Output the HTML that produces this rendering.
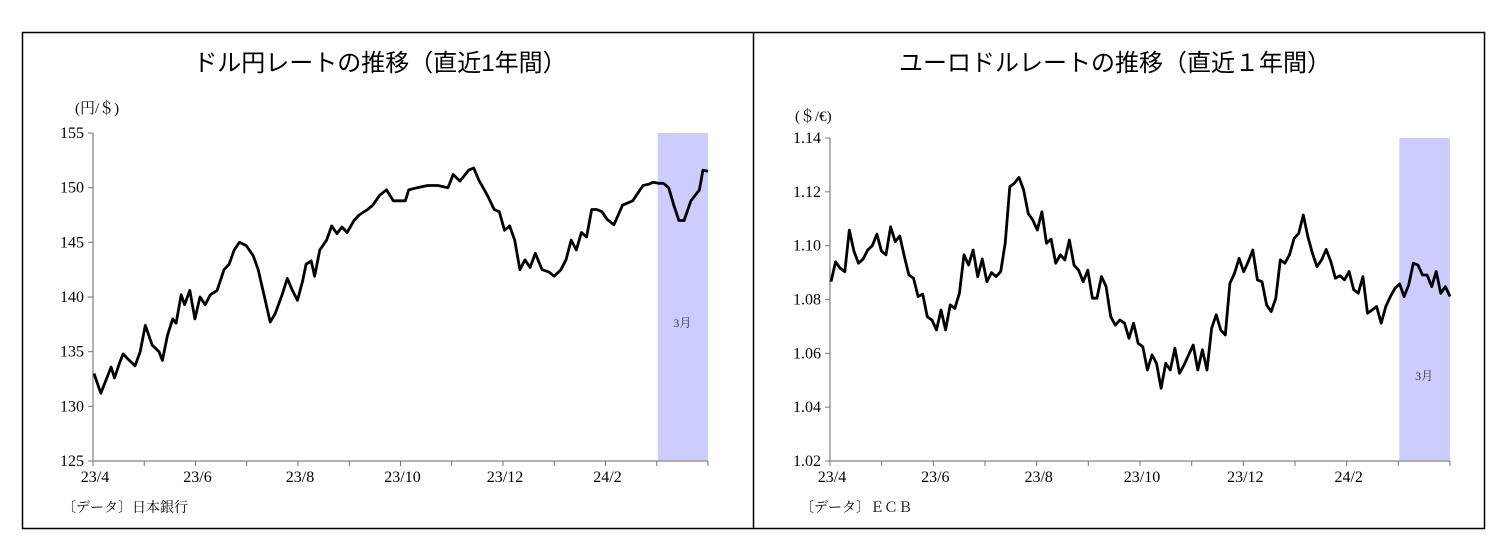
<!DOCTYPE html>
<html><head><meta charset="utf-8">
<style>
body{margin:0;background:#fff;}
svg text{font-family:"Liberation Serif","Noto Serif CJK SC",serif;}
.ttl{font-family:"Liberation Sans","Noto Sans CJK JP",sans-serif;font-size:24px;}
</style></head><body>
<svg id="s" width="1510" height="552" xmlns="http://www.w3.org/2000/svg">
<rect x="22.5" y="32.5" width="1462" height="496" fill="none" stroke="#000" stroke-width="1.5"/>
<line x1="753.5" y1="32" x2="753.5" y2="528" stroke="#000" stroke-width="1.5"/>
<text class="ttl" x="380" y="71" text-anchor="middle">ドル円レートの推移（直近1年間）</text>
<text class="ttl" x="1115" y="71" text-anchor="middle">ユーロドルレートの推移（直近１年間）</text>
<text x="75" y="113" font-size="15">(円/＄)</text>
<text x="795" y="121" font-size="15">(＄/€)</text>
<text x="62" y="512" font-size="14">〔データ〕日本銀行</text>
<text x="800" y="512" font-size="14">〔データ〕ＥＣＢ</text>
<g id="g1"></g><g id="g2"></g>
</svg>
<script>
const monthLabels=["23/4","","23/6","","23/8","","23/10","","23/12","","24/2",""];
const jpyTicks=[125,130,135,140,145,150,155];
const jpyDays=[0,4,7,10,12,15,17,20,24,27,30,34,38,40,43,46,48,51,53,56,59,62,65,68,72,76,79,82,85,89,93,96,100,103,106,110,113,116,119,122,124,127,129,132,136,139,142,145,148,152,155,160,163,167,171,175,175,182,184,189,195,201,207,210,214,219,222,225,230,234,237,240,243,246,249,252,255,258,262,266,269,273,276,279,282,285,288,291,294,297,300,304,309,315,321,324,327,330,333,336,339,342,345,349,354,356,359];
const jpyValues=[133,131.2,132.4,133.6,132.6,134,134.8,134.3,133.7,135,137.4,135.6,135,134.2,136.5,138,137.6,140.2,139.3,140.6,138,140,139.3,140.2,140.6,142.5,143,144.3,145,144.7,143.8,142.5,139.8,137.7,138.5,140.2,141.7,140.6,139.7,141.5,143,143.3,141.9,144.3,145.2,146.5,145.8,146.4,145.9,147,147.5,148,148.4,149.3,149.8,148.8,148.8,148.8,149.8,150,150.2,150.2,150,151.2,150.6,151.6,151.8,150.7,149.3,148,147.8,146.1,146.5,145.2,142.5,143.4,142.7,144,142.5,142.3,141.9,142.5,143.4,145.2,144.3,145.9,145.5,148,148,147.8,147.1,146.6,148.4,148.8,150.2,150.3,150.5,150.4,150.4,150,148.4,147,147,148.8,149.8,151.6,151.5,151.8,151.3];
const eurTicks=[1.02,1.04,1.06,1.08,1.10,1.12,1.14];
const eurValues=[1.0866,1.094,1.0916,1.0903,1.1058,1.098,1.0935,1.095,1.0984,1.1,1.1043,1.098,1.0966,1.107,1.1015,1.1036,1.0959,1.0891,1.0879,1.0811,1.082,1.0736,1.0724,1.0687,1.0761,1.0687,1.078,1.0767,1.0823,1.0966,1.0928,1.0984,1.0885,1.095,1.0866,1.09,1.0885,1.0904,1.1009,1.1219,1.1232,1.1254,1.1207,1.112,1.1096,1.1058,1.1126,1.1009,1.1024,1.0935,1.0966,1.0947,1.1021,1.0928,1.0909,1.0866,1.0909,1.0805,1.0805,1.0885,1.0848,1.0736,1.0705,1.0724,1.0712,1.0656,1.0712,1.0637,1.0625,1.0538,1.0594,1.0563,1.047,1.0563,1.0538,1.0619,1.0526,1.0557,1.0594,1.0631,1.0538,1.0613,1.0538,1.0693,1.0743,1.0687,1.0668,1.086,1.0897,1.0953,1.0903,1.0941,1.0984,1.0873,1.0866,1.078,1.0755,1.0805,1.0947,1.0935,1.0966,1.1027,1.1046,1.1114,1.1033,1.0972,1.0922,1.0947,1.0986,1.0941,1.0879,1.0888,1.0873,1.0904,1.0836,1.0823,1.0885,1.0749,1.0761,1.0774,1.0712,1.0774,1.0811,1.0842,1.0858,1.0811,1.0854,1.0935,1.0928,1.0891,1.0891,1.0848,1.0904,1.0823,1.0848,1.0811];
const NS="http://www.w3.org/2000/svg";
function mk(p,t,a){const e=document.createElementNS(NS,t);for(const k in a)e.setAttribute(k,a[k]);p.appendChild(e);return e;}
function draw(g,cfg,ticks,vals,days,fmt,pre){
  const y=v=>cfg.y1+(cfg.top-v)/(cfg.top-cfg.bot)*(cfg.y2-cfg.y1);
  const mw=(cfg.x2-cfg.x1)/12;
  const n=vals.length;
  const xd=d=>cfg.x1+1+d/359*(cfg.x2-cfg.x1-1);
  const xi=i=>days?xd(days[i]):cfg.x1+1+i*(cfg.x2-cfg.x1-1)/(n-1);
  const sh=mk(g,'rect',{x:cfg.x1+11*mw+1,y:cfg.y1,width:mw-1,height:cfg.y2-cfg.y1,fill:'#ccccff'});
  
  
  const st=mk(g,'text',{x:cfg.x1+11.5*mw,y:cfg.labY,'font-size':12,'text-anchor':'middle',fill:'#333'});
  st.textContent='3月';
  
  
  const ax=mk(g,'path',{d:`M${cfg.x1} ${cfg.y1}V${cfg.y2}H${cfg.x2}`,fill:'none',stroke:'#999','stroke-width':1.5});
  
  
  ticks.forEach(v=>{
    mk(g,'line',{x1:cfg.x1-5,x2:cfg.x1,y1:y(v),y2:y(v),stroke:'#777'});
    const t=mk(g,'text',{x:cfg.x1-9,y:y(v)+5,'font-size':16,'text-anchor':'end'});
    t.textContent=fmt(v);
    
    
  });
  for(let i=0;i<=12;i++){
    const x=cfg.x1+i*mw;
    mk(g,'line',{x1:x,x2:x,y1:cfg.y2,y2:cfg.y2+5,stroke:'#777'});
    if(i<12&&monthLabels[i]){
      const t=mk(g,'text',{x:x+2,y:cfg.y2+21,'font-size':16,'text-anchor':'middle'});
      t.textContent=monthLabels[i];
      
      
    }
  }
  const d=vals.map((v,i)=>(i?'L':'M')+xi(i).toFixed(1)+' '+y(v).toFixed(1)).join('');
  const ln=mk(g,'path',{d:d,fill:'none',stroke:'#000','stroke-width':2.8,'stroke-linejoin':'round'});
  
  
}
draw(document.getElementById('g1'),{x1:93,x2:708,y1:133,y2:461,top:155,bot:125,labY:327},jpyTicks,jpyValues,jpyDays,v=>String(v),'usdjpy');
draw(document.getElementById('g2'),{x1:830,x2:1450,y1:138,y2:461,top:1.14,bot:1.02,labY:380},eurTicks,eurValues,null,v=>v.toFixed(2),'eurusd');
</script>
</body></html>
